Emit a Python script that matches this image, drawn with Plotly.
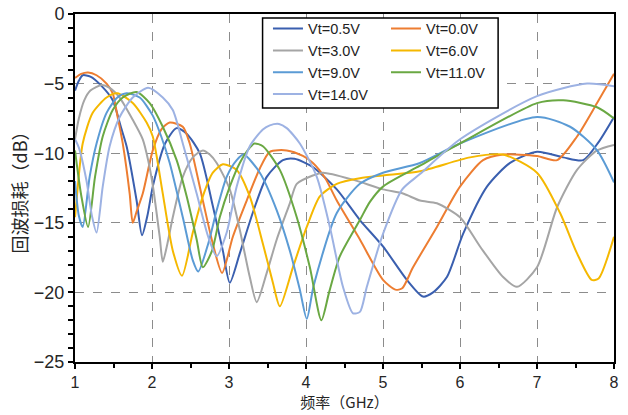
import plotly.graph_objects as go

# ---------------- data ----------------
names = ["Vt=0.5V", "Vt=0.0V", "Vt=3.0V", "Vt=6.0V", "Vt=9.0V", "Vt=11.0V", "Vt=14.0V"]

f_05 = [1.0, 1.05, 1.1, 1.2, 1.35, 1.49, 1.6, 1.67, 1.8, 1.87, 1.94, 2.01, 2.17, 2.32, 2.45, 2.62, 2.79, 2.92,
        3.01, 3.14, 3.32, 3.49, 3.7, 3.85, 4.09, 4.4, 4.7, 5.0, 5.31, 5.52, 5.65, 5.83, 6.04, 6.35, 6.65, 7.0,
        7.34, 7.6, 7.8, 8.0]
rl_05 = [-5.5, -4.8, -4.4, -4.5, -5.2, -6.2, -8.2, -9.5, -13.4, -15.9, -14.5, -12.4, -9.3, -8.2, -8.6, -10.0,
         -13.8, -17.0, -19.3, -17.2, -14.1, -11.7, -10.5, -10.4, -11.0, -12.6, -14.8, -16.7, -19.1, -20.3, -20.0,
         -18.9, -15.8, -12.4, -10.7, -9.9, -10.3, -10.5, -9.2, -7.4]

f_00 = [1.0, 1.08, 1.17, 1.28, 1.41, 1.49, 1.55, 1.62, 1.71, 1.75, 1.8, 1.88, 2.01, 2.12, 2.23, 2.4, 2.49, 2.66,
        2.79, 2.91, 3.05, 3.23, 3.4, 3.53, 3.75, 3.96, 4.09, 4.25, 4.4, 4.7, 5.0, 5.16, 5.25, 5.39, 5.7, 6.0,
        6.3, 6.56, 7.0, 7.26, 7.52, 7.78, 8.0]
rl_00 = [-4.6, -4.3, -4.2, -4.4, -5.0, -5.7, -7.3, -9.3, -12.9, -15.0, -14.2, -12.9, -9.8, -8.3, -7.8, -8.1,
         -9.3, -13.4, -16.5, -18.6, -16.0, -13.4, -11.1, -9.9, -9.8, -10.2, -10.7, -11.8, -13.4, -16.2, -19.1,
         -19.8, -19.7, -18.2, -15.3, -12.4, -10.5, -10.1, -10.2, -10.5, -8.8, -6.4, -4.3]

f_30 = [1.0, 1.05, 1.12, 1.2, 1.35, 1.45, 1.58, 1.75, 1.88, 1.95, 2.01, 2.1, 2.14, 2.2, 2.27, 2.4, 2.53, 2.66,
        2.75, 2.84, 3.01, 3.14, 3.27, 3.36, 3.49, 3.62, 3.79, 3.88, 4.09, 4.22, 4.61, 5.0, 5.26, 5.48, 5.7, 6.0,
        6.26, 6.56, 6.74, 7.0, 7.26, 7.52, 7.78, 8.0]
rl_30 = [-9.0, -7.5, -6.2, -5.5, -5.1, -5.3, -6.0, -7.6, -9.0, -10.5, -12.3, -16.0, -17.8, -16.5, -14.6, -11.7,
         -10.3, -9.8, -10.1, -10.7, -12.6, -15.5, -18.9, -20.7, -18.6, -16.2, -13.6, -12.2, -11.6, -11.4, -11.9,
         -12.6, -12.9, -13.4, -13.6, -14.6, -16.7, -18.9, -19.6, -18.2, -13.9, -11.2, -9.8, -9.4]

f_60 = [1.0, 1.02, 1.1, 1.23, 1.41, 1.55, 1.75, 1.93, 2.01, 2.06, 2.14, 2.27, 2.39, 2.53, 2.66, 2.79, 2.92, 3.1,
        3.27, 3.44, 3.57, 3.66, 3.83, 4.01, 4.18, 4.4, 4.7, 5.0, 5.48, 6.13, 6.56, 7.0, 7.3, 7.52, 7.71, 7.8, 8.0]
rl_60 = [-14.6, -13.4, -9.3, -7.1, -6.0, -5.7, -6.4, -7.8, -8.8, -10.2, -12.9, -17.0, -18.8, -15.7, -13.1,
         -11.4, -10.8, -11.2, -13.1, -16.5, -19.3, -21.0, -18.2, -15.3, -13.1, -12.2, -11.8, -11.6, -11.3, -10.3,
         -10.1, -11.4, -14.3, -17.2, -19.1, -19.0, -16.0]

f_90 = [1.0, 1.05, 1.1, 1.19, 1.28, 1.41, 1.55, 1.67, 1.84, 2.01, 2.12, 2.23, 2.4, 2.53, 2.6, 2.73, 2.84, 2.97,
        3.1, 3.19, 3.4, 3.62, 3.79, 3.92, 4.01, 4.1, 4.4, 4.7, 5.0, 5.48, 6.0, 7.0, 7.43, 7.78, 8.0]
rl_90 = [-12.0, -14.5, -15.3, -11.7, -9.3, -7.1, -6.0, -5.7, -6.0, -7.3, -8.8, -10.7, -14.6, -17.7, -18.5,
         -16.5, -14.1, -11.7, -10.5, -10.1, -11.4, -14.1, -17.0, -19.8, -21.9, -19.5, -14.3, -12.2, -11.4, -10.7,
         -9.3, -7.4, -8.1, -9.8, -12.1]

f_110 = [1.0, 1.08, 1.17, 1.26, 1.36, 1.49, 1.62, 1.8, 1.97, 2.14, 2.32, 2.45, 2.58, 2.66, 2.78, 2.88, 3.01,
         3.14, 3.27, 3.33, 3.44, 3.66, 3.88, 4.05, 4.2, 4.3, 4.44, 4.7, 4.83, 5.0, 5.48, 6.0, 7.0, 7.34, 7.78, 8.0]
rl_110 = [-9.8, -13.0, -15.3, -11.7, -8.8, -6.9, -6.0, -5.6, -6.4, -8.1, -10.5, -13.1, -16.2, -18.2, -17.0,
          -14.6, -12.4, -10.7, -9.6, -9.3, -9.5, -11.2, -14.6, -18.2, -22.0, -20.0, -17.4, -14.8, -13.5, -12.4,
          -10.9, -9.3, -6.4, -6.2, -6.7, -7.5]

f_140 = [1.0, 1.05, 1.15, 1.22, 1.28, 1.36, 1.45, 1.58, 1.75, 1.95, 2.14, 2.27, 2.4, 2.58, 2.73, 2.84, 2.97,
         3.1, 3.27, 3.44, 3.53, 3.65, 3.75, 3.92, 4.14, 4.31, 4.48, 4.61, 4.7, 4.79, 5.0, 5.25, 5.48, 6.0, 7.0,
         7.65, 8.0]
rl_140 = [-9.0, -9.6, -12.0, -14.5, -15.7, -12.4, -9.5, -7.4, -6.0, -5.3, -6.0, -6.9, -9.3, -12.9, -16.0, -17.4,
          -15.7, -12.4, -9.5, -8.3, -8.0, -7.9, -8.2, -9.3, -11.7, -15.3, -19.6, -21.5, -21.4, -19.6, -15.8,
          -12.6, -11.5, -9.0, -5.9, -5.0, -5.2]

freqs = [f_05, f_00, f_30, f_60, f_90, f_110, f_140]
losses = [rl_05, rl_00, rl_30, rl_60, rl_90, rl_110, rl_140]

x_ticks = [1, 2, 3, 4, 5, 6, 7, 8]
y_ticks = [0, -5, -10, -15, -20, -25]

# ---------------- style ----------------
colors = ["#3A5FAF", "#ED7D31", "#A5A5A5", "#F5B800", "#5B9BD5", "#6AA843", "#9DB2E3"]
legend_of = ["legend", "legend2", "legend", "legend2", "legend", "legend2", "legend"]

fig = go.Figure()
for name, fx, ry, c, lg in zip(names, freqs, losses, colors, legend_of):
    fig.add_trace(go.Scatter(
        x=fx, y=ry, name=name, mode="lines",
        line=dict(color=c, width=2, shape="spline", smoothing=0.7),
        legend=lg,
    ))

legend_font = dict(family="Liberation Sans, Arial, sans-serif", size=14.5, color="#222222")

fig.update_layout(
    width=628, height=415,
    margin=dict(l=75, r=14, t=14, b=53, autoexpand=False),
    paper_bgcolor="white", plot_bgcolor="white",
    font=dict(family="Liberation Sans, Arial, sans-serif", color="#262626"),
    legend=dict(x=0.358, y=1.004, xanchor="left", yanchor="top", bgcolor="rgba(0,0,0,0)",
                borderwidth=0, font=legend_font, traceorder="normal", tracegroupgap=0),
    legend2=dict(x=0.577, y=1.004, xanchor="left", yanchor="top", bgcolor="rgba(0,0,0,0)",
                 borderwidth=0, font=legend_font, traceorder="normal", tracegroupgap=0),
    shapes=[dict(type="rect", xref="paper", yref="paper", x0=0.348, x1=0.785, y0=0.730, y1=0.9885,
                 line=dict(color="black", width=1.5), fillcolor="white", layer="above")],
)

fig.update_xaxes(
    range=[1, 8], tickmode="array", tickvals=x_ticks, ticktext=[str(v) for v in x_ticks],
    automargin=False,
    showgrid=True, gridcolor="#8c8c8c", griddash="dash", gridwidth=1,
    showline=True, linecolor="black", linewidth=2, mirror=True, zeroline=False,
    ticks="outside", ticklen=5, tickwidth=1.5, tickcolor="black",
    minor=dict(dtick=0.5, tick0=1, ticks="outside", ticklen=4, tickwidth=1.5, tickcolor="black", showgrid=False),
    tickfont=dict(family="Liberation Sans, Arial, sans-serif", size=16, color="#262626"),
    title=dict(text="频率（GHz）", font=dict(family="Noto Sans CJK SC", size=15, color="#262626"), standoff=2),
)
fig.update_yaxes(
    range=[-25, 0], tickmode="array", tickvals=y_ticks, ticktext=["0", "−5", "−10", "−15", "−20", "−25"],
    automargin=False,
    showgrid=True, gridcolor="#8c8c8c", griddash="dash", gridwidth=1,
    showline=True, linecolor="black", linewidth=2, mirror=True, zeroline=False,
    ticks="outside", ticklen=5, tickwidth=1.5, tickcolor="black",
    minor=dict(dtick=1, tick0=0, ticks="outside", ticklen=5, tickwidth=1.5, tickcolor="black", showgrid=False),
    tickfont=dict(family="Liberation Sans, Arial, sans-serif", size=18, color="#262626"),
    title=dict(text="回波损耗（dB）", font=dict(family="Noto Sans CJK SC", size=18, color="#262626"), standoff=2),
)

fig.write_html("out.html", config={"displayModeBar": False},
               post_script="document.body.style.margin='0';")
